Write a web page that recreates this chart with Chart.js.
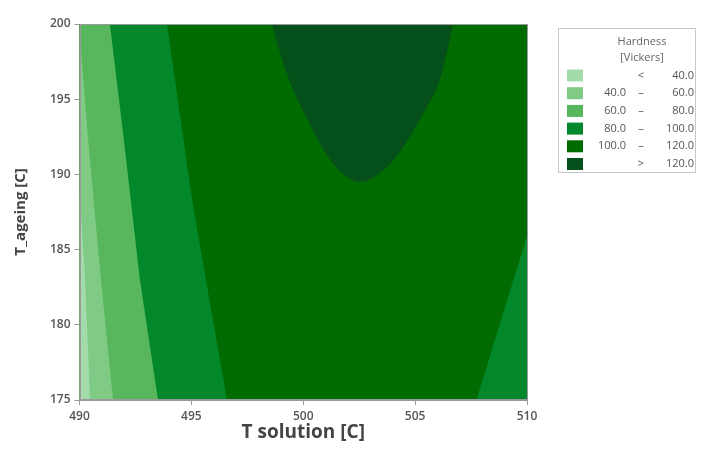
<!DOCTYPE html>
<html>
<head>
<meta charset="utf-8">
<script src="https://cdn.jsdelivr.net/npm/chart.js@4/dist/chart.umd.min.js"></script>
<style>
  html, body { margin: 0; padding: 0; background: #fff; }
  #wrap { width: 708px; height: 461px; }
</style>
</head>
<body>
<div id="wrap"><canvas id="contour" width="708" height="461"></canvas></div>
<script>
// contour boundaries: T_solution (x) vs T_ageing (y)
var bound40x = [490.0, 490.25, 490.47];
var bound40y = [189.0, 183.0, 175.0];
var bound60x = [490.0, 490.42, 490.96, 491.5];
var bound60y = [199.5, 191.7, 183.0, 175.0];
var bound80x = [490.0, 491.36, 492.03, 492.70, 493.51];
var bound80y = [200.0, 200.0, 191.7, 183.0, 175.0];
var bound100x = [490.0, 493.91, 495.03, 495.65, 496.59];
var bound100y = [200.0, 200.0, 188.3, 183.0, 175.0];
var rightX = [507.74, 510.0];
var rightY = [175.0, 185.9];
var peakX = [498.60, 498.96, 499.50, 500.17, 500.97, 501.73, 502.54, 503.43, 504.32, 505.22, 505.98, 506.42, 506.69];
var peakY = [200.0, 198.1, 195.8, 193.7, 191.5, 190.1, 189.5, 190.1, 191.5, 193.7, 195.8, 198.1, 200.0];
var fullX = [490.0, 510.0];
var fullY = [200.0, 200.0];

var xTicks = [490, 495, 500, 505, 510];
var yTicks = [175, 180, 185, 190, 195, 200];

// legend
var legendTitle = ['Hardness', '[Vickers]'];
var levelFrom = ['', '40.0', '60.0', '80.0', '100.0', ''];
var levelSep = ['<', '\u2013', '\u2013', '\u2013', '\u2013', '>'];
var levelTo = ['40.0', '60.0', '80.0', '100.0', '120.0', '120.0'];
var levelColors = ['#a3dbab', '#7fcb85', '#58b65c', '#02882a', '#006b00', '#05501a'];

function pts(xs, ys) {
  return xs.map(function(x, i) { return { x: x, y: ys[i] }; });
}

function region(xs, ys, color, fill, order, tension) {
  return {
    data: pts(xs, ys),
    backgroundColor: color,
    borderColor: color,
    borderWidth: 0,
    pointRadius: 0,
    fill: fill,
    order: order,
    tension: tension || 0
  };
}

var frameAndLegend = {
  id: 'frameAndLegend',
  afterDatasetsDraw: function(chart) {
    var ctx = chart.ctx, a = chart.chartArea;
    ctx.save();
    ctx.strokeStyle = '#9a9a9a';
    ctx.lineWidth = 1;
    ctx.strokeRect(Math.round(a.left) + 0.5, Math.round(a.top) + 0.5,
      Math.round(a.right - a.left) - 1, Math.round(a.bottom - a.top) - 1);
    ctx.restore();
  },
  afterDraw: function(chart) {
    var ctx = chart.ctx;
    ctx.save();
    ctx.strokeStyle = '#c8c8c8';
    ctx.lineWidth = 1;
    ctx.strokeRect(558.5, 28.5, 137, 144);
    ctx.fillStyle = '#666';
    ctx.font = '11px "Open Sans", sans-serif';
    ctx.textAlign = 'center';
    ctx.textBaseline = 'middle';
    ctx.fillText(legendTitle[0], 642, 42);
    ctx.fillText(legendTitle[1], 642, 58);
    for (var i = 0; i < levelColors.length; i++) {
      var cy = 75.5 + i * 17.7;
      ctx.fillStyle = levelColors[i];
      ctx.fillRect(567, cy - 6, 16, 12);
      ctx.fillStyle = '#555';
      ctx.textAlign = 'right';
      ctx.fillText(levelFrom[i], 626, cy);
      ctx.textAlign = 'center';
      ctx.fillText(levelSep[i], 641, cy);
      ctx.textAlign = 'right';
      ctx.fillText(levelTo[i], 694, cy);
    }
    ctx.restore();
  }
};

var ctx = document.getElementById('contour').getContext('2d');
var curChart = new Chart(ctx, {
  type: 'line',
  data: {
    datasets: [
      region(bound40x, bound40y, levelColors[0], 'start', 0),
      region(bound60x, bound60y, levelColors[1], 'start', 1),
      region(bound80x, bound80y, levelColors[2], 'start', 2),
      region(bound100x, bound100y, levelColors[3], 'start', 3),
      region(peakX, peakY, levelColors[5], 'end', 4, 0.4),
      region(rightX, rightY, levelColors[3], 'start', 5),
      region(fullX, fullY, levelColors[4], 'start', 6)
    ]
  },
  plugins: [frameAndLegend],
  options: {
    responsive: false,
    animation: false,
    devicePixelRatio: 1,
    layout: { padding: { left: 0, right: 181, top: 24, bottom: 0 } },
    plugins: {
      legend: { display: false },
      tooltip: { enabled: false }
    },
    scales: {
      x: {
        type: 'linear',
        min: 490, max: 510,
        afterBuildTicks: function(s) { s.ticks = xTicks.map(function(v) { return { value: v }; }); },
        afterFit: function(s) { s.height = 61; },
        grid: { drawOnChartArea: false, tickLength: 5, color: '#9a9a9a' },
        border: { color: '#9a9a9a' },
        ticks: { color: '#555', padding: 4, maxRotation: 0, autoSkip: false, font: { family: '"Open Sans", sans-serif', size: 12, weight: '600' } },
        title: { display: true, text: 'T solution [C]', color: '#444', padding: { top: 0, bottom: 17 }, font: { family: '"Open Sans", sans-serif', size: 19, weight: 'bold' } }
      },
      y: {
        type: 'linear',
        min: 175, max: 200,
        afterBuildTicks: function(s) { s.ticks = yTicks.map(function(v) { return { value: v }; }); },
        afterFit: function(s) { s.width = 79.5; },
        grid: { drawOnChartArea: false, tickLength: 5, color: '#9a9a9a' },
        border: { color: '#9a9a9a' },
        ticks: { color: '#555', padding: 4, autoSkip: false, font: { family: '"Open Sans", sans-serif', size: 12, weight: '600' } },
        title: { display: true, text: 'T_ageing [C]', color: '#444', padding: { top: 12, bottom: 0 }, font: { family: '"Open Sans", sans-serif', size: 15, weight: 'bold' } }
      }
    }
  }
});
</script>
</body>
</html>
